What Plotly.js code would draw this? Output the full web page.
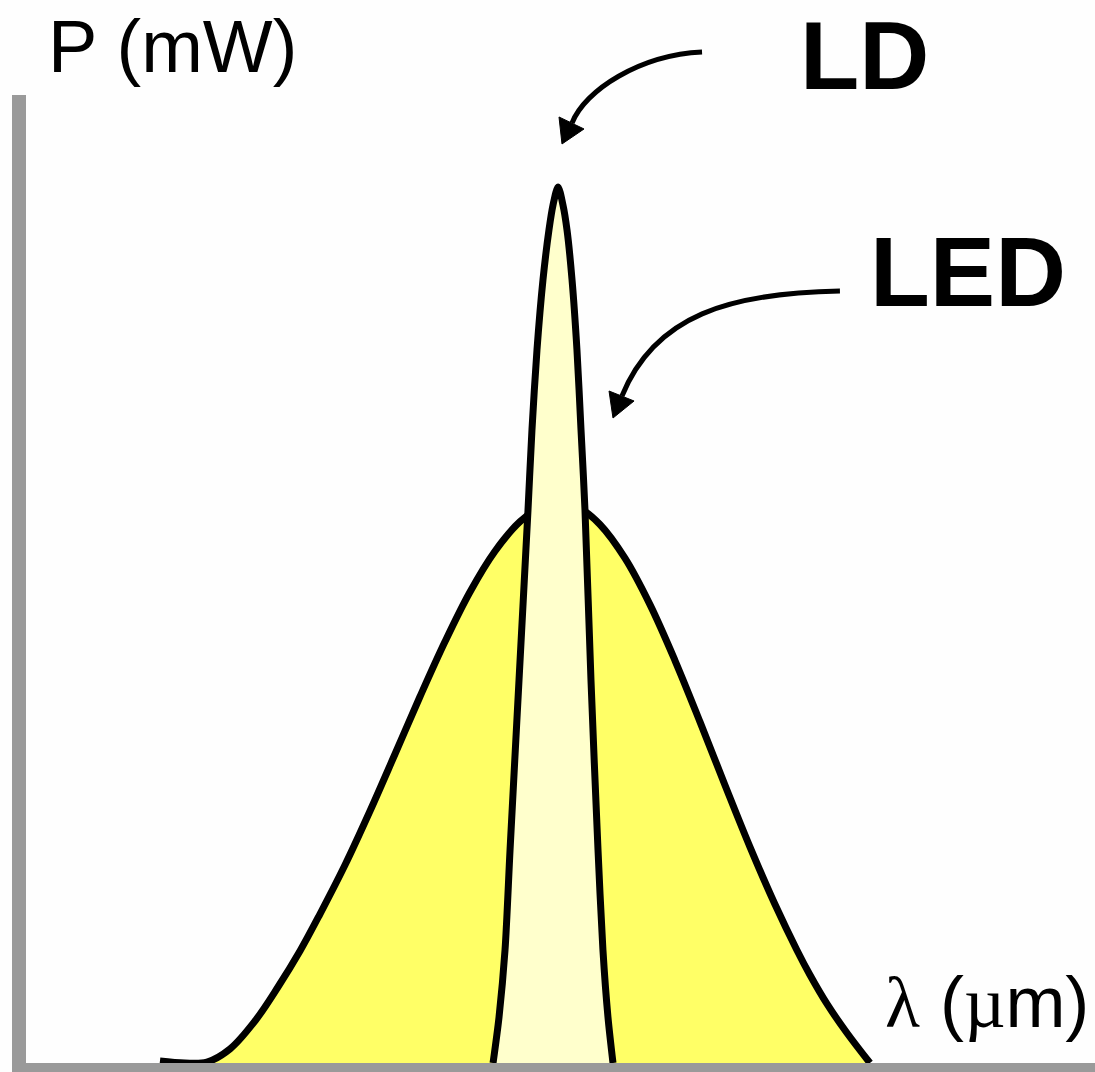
<!DOCTYPE html>
<html>
<head>
<meta charset="utf-8">
<script src="https://cdn.plot.ly/plotly-3.0.1.min.js"></script>
<style>
  html, body { margin: 0; padding: 0; background: #ffffff; }
  #chart { width: 1095px; height: 1072px; }
</style>
</head>
<body>
<div id="chart"></div>
<script>
// Wavelength axis (arbitrary units) and relative optical power (arbitrary units)
const ledWavelength = [12.53, 14.87, 16.93, 19.08, 21.42, 23.57, 25.63, 27.50, 29.84, 32.18, 34.52, 36.86, 39.20, 41.53, 43.87, 46.21, 48.08, 49.95, 51.82, 53.69, 56.03, 58.37, 60.71, 63.05, 65.39, 67.73, 70.07, 72.12, 73.34, 74.93, 76.80, 78.95];
const ledPower      = [0.21, 0.0, 0.10, 1.45, 4.34, 7.85, 11.57, 15.39, 20.45, 26.03, 31.92, 37.86, 43.54, 48.66, 52.87, 55.92, 57.37, 57.85, 57.29, 55.63, 52.15, 47.35, 41.58, 35.24, 28.70, 22.31, 16.37, 11.65, 9.09, 6.10, 3.10, 0.0];

const ldWavelength = [43.69, 44.25, 44.81, 45.28, 46.12, 46.96, 47.33, 47.80, 48.36, 48.92, 49.30, 49.77, 50.23, 50.61, 51.08, 51.54, 51.92, 52.29, 52.85, 53.51, 53.97, 54.44, 54.91];
const ldPower      = [0.0, 4.75, 11.67, 22.00, 39.57, 57.13, 65.39, 73.66, 80.89, 86.05, 88.64, 90.50, 88.64, 86.05, 80.89, 73.66, 65.39, 57.13, 39.57, 22.00, 11.67, 4.75, 0.0];

const labels = {
  yTitle: 'P (mW)',
  xTitle: '<span style="font-family:\'Liberation Serif\'">λ</span> (<span style="font-family:\'Liberation Serif\'">µ</span>m)',
  ld: 'LD',
  led: 'LED'
};

const traces = [
  {
    x: ledWavelength, y: ledPower, type: 'scatter', mode: 'lines',
    line: { color: '#000000', width: 7, shape: 'spline', smoothing: 1 },
    fill: 'tozeroy', fillcolor: '#FFFF66', name: labels.led, hoverinfo: 'skip'
  },
  {
    x: ldWavelength, y: ldPower, type: 'scatter', mode: 'lines',
    line: { color: '#000000', width: 7, shape: 'spline', smoothing: 0.8 },
    fill: 'tozeroy', fillcolor: '#FFFFCC', name: labels.ld, hoverinfo: 'skip'
  }
];

const layout = {
  width: 1095, height: 1072,
  margin: { l: 26, r: 0, t: 95, b: 9, pad: 0 },
  paper_bgcolor: '#FEFEFE', plot_bgcolor: '#FEFEFE',
  showlegend: false,
  xaxis: {
    range: [0, 100], showgrid: false, zeroline: false, showticklabels: false, ticks: '',
    showline: true, linecolor: '#9A9A9A', linewidth: 9, fixedrange: true
  },
  yaxis: {
    range: [0, 100], showgrid: false, zeroline: false, showticklabels: false, ticks: '',
    showline: true, linecolor: '#9A9A9A', linewidth: 14, fixedrange: true
  },
  shapes: [
    // LD arrow shaft and head
    { type: 'path', xref: 'paper', yref: 'paper', path: 'M 0.6324 1.0444 C 0.5744 1.0413, 0.5229 1.0052, 0.5108 0.9711',
      line: { color: '#000000', width: 5 } },
    { type: 'path', xref: 'paper', yref: 'paper', path: 'M 0.5014 0.9494 L 0.4986 0.9773 L 0.5220 0.9649 Z',
      fillcolor: '#000000', line: { color: '#000000', width: 1 } },
    // LED arrow shaft and head
    { type: 'path', xref: 'paper', yref: 'paper', path: 'M 0.7614 0.7975 C 0.6586 0.7955, 0.5884 0.7727, 0.5575 0.6891',
      line: { color: '#000000', width: 5 } },
    { type: 'path', xref: 'paper', yref: 'paper', path: 'M 0.5491 0.6663 L 0.5454 0.6942 L 0.5688 0.6839 Z',
      fillcolor: '#000000', line: { color: '#000000', width: 1 } }
  ],
  annotations: [
    { text: labels.yTitle, xref: 'paper', yref: 'paper', x: 0.0197, y: 1.0506, xanchor: 'left', yanchor: 'middle',
      showarrow: false, borderpad: 0, font: { family: 'Liberation Sans, Arial, sans-serif', size: 74, color: '#000000' } },
    { text: labels.xTitle, xref: 'paper', yref: 'paper', x: 0.9953, y: 0.063, xanchor: 'right', yanchor: 'middle',
      showarrow: false, borderpad: 0, font: { family: 'Liberation Sans, Arial, sans-serif', size: 72, color: '#000000' } },
    { text: '<b>' + labels.ld + '</b>', xref: 'paper', yref: 'paper', x: 0.7231, y: 1.0413, xanchor: 'left', yanchor: 'middle',
      showarrow: false, borderpad: 0, font: { family: 'Liberation Sans, Arial, sans-serif', size: 97, color: '#000000' } },
    { text: '<b>' + labels.led + '</b>', xref: 'paper', yref: 'paper', x: 0.7886, y: 0.8171, xanchor: 'left', yanchor: 'middle',
      showarrow: false, borderpad: 0, font: { family: 'Liberation Sans, Arial, sans-serif', size: 98, color: '#000000' } }
  ]
};

Plotly.newPlot('chart', traces, layout, { displayModeBar: false, staticPlot: true });
</script>
</body>
</html>
